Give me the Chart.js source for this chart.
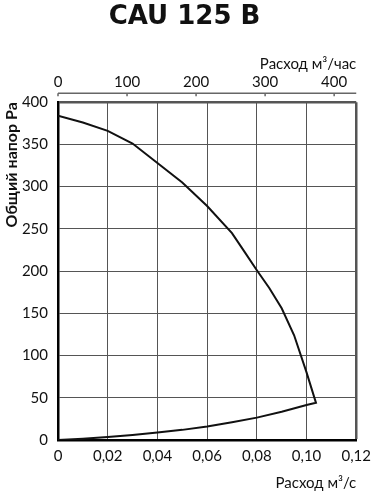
<!DOCTYPE html>
<html>
<head>
<meta charset="utf-8">
<script src="https://cdn.jsdelivr.net/npm/chart.js@4"></script>
<style>
  html, body { margin: 0; padding: 0; background: #fff; }
  #wrap { width: 378px; height: 500px; }
</style>
</head>
<body>
<div id="wrap"><canvas id="chart"></canvas></div>
<script>
// performance curve: flow m³/s -> total pressure Pa
const flow = [0, 0.01, 0.02, 0.03, 0.04, 0.05, 0.06, 0.07, 0.075, 0.08, 0.085, 0.09, 0.095, 0.1, 0.1038, 0.1, 0.09, 0.08, 0.07, 0.06, 0.05, 0.04, 0.03, 0.02, 0.01, 0];
const pressure = [384, 376, 366, 351, 328, 305, 277, 245, 223, 201, 180, 156, 124, 80, 44, 41.5, 33.5, 26.5, 21, 16, 12, 8.8, 6, 3.6, 1.5, 0];

const xTickLabels = ["0", "0,02", "0,04", "0,06", "0,08", "0,10", "0,12"];
const topTickLabels = ["0", "100", "200", "300", "400"];

const tickFont = { family: "Lato", size: 15 };
const ink = "#111";
const gridColor = "#555";

// top axis is drawn a bit above the plot box, like the original
const topAxisLine = {
  id: "topAxisLine",
  afterDraw(chart) {
    const { ctx, chartArea } = chart;
    const s = chart.scales.x2;
    const y = chartArea.top - 9;
    ctx.save();
    ctx.strokeStyle = "#666";
    ctx.lineWidth = 1.5;
    ctx.beginPath();
    ctx.moveTo(s.left, y);
    ctx.lineTo(s.right, y);
    s.ticks.forEach((t) => {
      const x = s.getPixelForValue(t.value);
      ctx.moveTo(x, y);
      ctx.lineTo(x, y + 3);
    });
    ctx.stroke();
    ctx.restore();
  },
};

new Chart(document.getElementById("chart"), {
  type: "scatter",
  data: {
    datasets: [
      {
        data: flow.map((x, i) => ({ x: x, y: pressure[i] })),
        showLine: true,
        borderColor: ink,
        borderWidth: 2,
        pointRadius: 0,
        tension: 0,
      },
    ],
  },
  options: {
    responsive: true,
    maintainAspectRatio: false,
    animation: false,
    layout: { padding: { right: 9 } },
    plugins: {
      legend: { display: false },
      tooltip: { enabled: false },
      title: {
        display: true,
        text: "CAU 125 B",
        color: ink,
        font: { family: "DejaVu Sans", size: 26, weight: "bold" },
        padding: { top: 2, bottom: 22 },
      },
    },
    scales: {
      x: {
        type: "linear",
        position: "bottom",
        min: 0,
        max: 0.12,
        afterFit: (s) => { s.height = 60; },
        ticks: {
          stepSize: 0.02,
          color: ink,
          font: tickFont,
          padding: 7,
          callback: (v, i) => xTickLabels[i],
        },
        grid: {
          color: gridColor,
          drawTicks: false,
          lineWidth: (c) => (c.tick && c.tick.value > 0.119 ? 2.5 : 1),
        },
        border: { color: "#000", width: 2.5 },
        title: {
          display: true,
          text: "Расход м³/с",
          align: "end",
          color: ink,
          font: { family: "Lato", size: 15 },
          padding: { top: 9, bottom: 8 },
        },
      },
      x2: {
        type: "linear",
        position: "top",
        min: 0,
        max: 432,
        afterFit: (s) => { s.height = 47; },
        ticks: {
          stepSize: 100,
          includeBounds: false,
          color: ink,
          font: tickFont,
          padding: 3,
          callback: (v, i) => topTickLabels[i],
        },
        grid: { display: false },
        border: { display: false },
        title: {
          display: true,
          text: "Расход м³/час",
          align: "end",
          color: ink,
          font: { family: "Lato", size: 15 },
          padding: { top: 0, bottom: 0 },
        },
      },
      y: {
        min: 0,
        max: 400,
        afterFit: (s) => { s.width = 58; },
        ticks: {
          stepSize: 50,
          color: ink,
          font: tickFont,
          padding: 10,
        },
        grid: {
          color: gridColor,
          drawTicks: false,
          lineWidth: (c) => (c.tick && c.tick.value === 400 ? 2.5 : 1),
        },
        border: { color: "#000", width: 2.5 },
        title: {
          display: true,
          text: "Общий напор Pa",
          align: "end",
          color: ink,
          font: { family: "Lato", size: 16, weight: "bold" },
          padding: { top: 2, bottom: 0 },
        },
      },
    },
  },
  plugins: [topAxisLine],
});
</script>
</body>
</html>
